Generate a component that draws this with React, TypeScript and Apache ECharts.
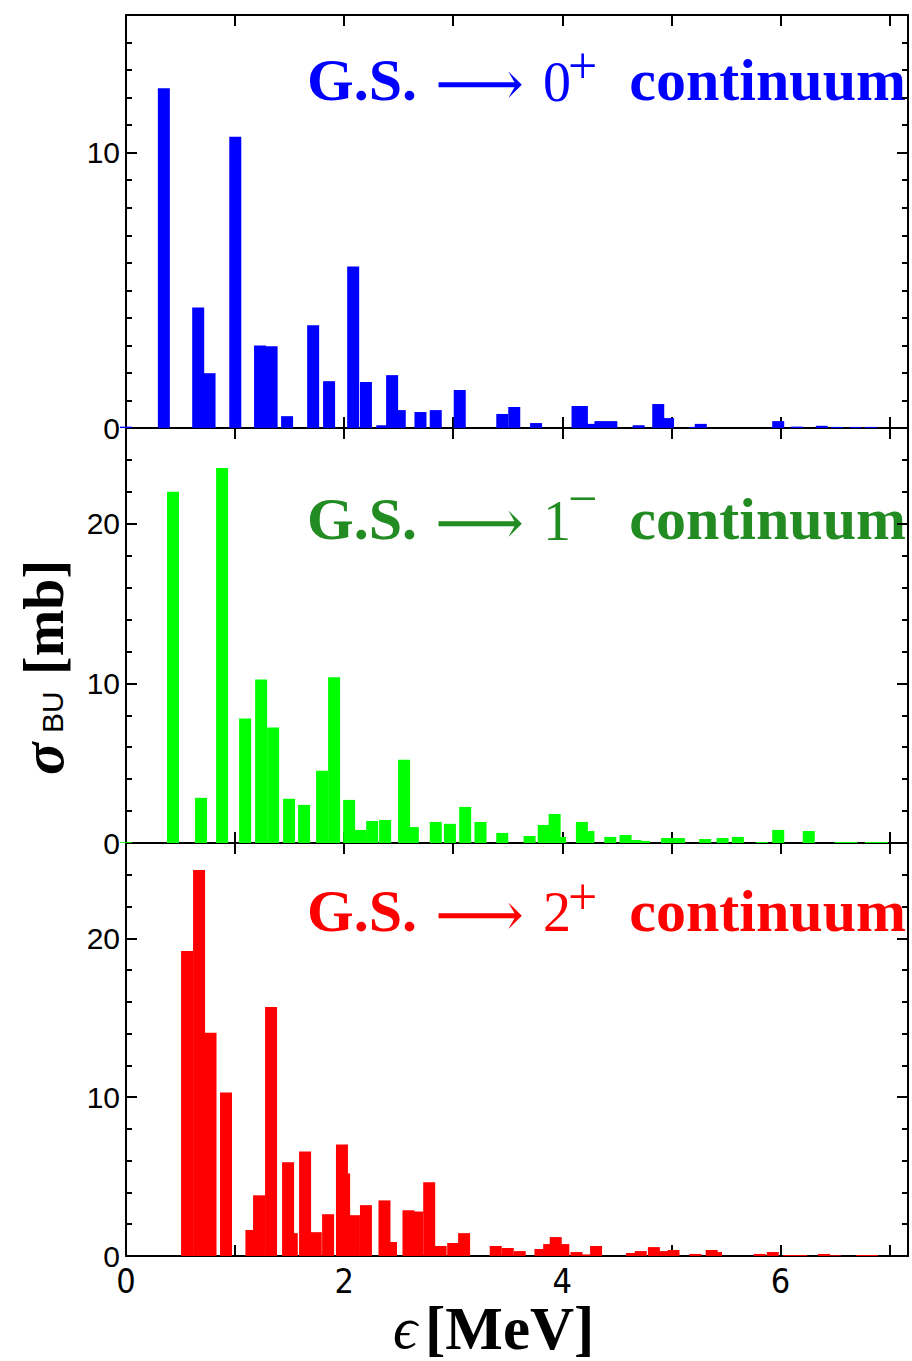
import React, { useEffect, useRef } from 'react';
import * as echarts from 'echarts';

// x-axis tick labels (MeV) and y-axis tick labels (mb)
const xTickLabels = [0, 2, 4, 6];
const yTickLabels = [0, 10, 20];
const panelMax = [15, 26, 26];

// G.S. -> 0+ continuum  [energy (MeV), sigma (mb)]
const bu0plus: number[][] = [
  [0.0, 0.05], [0.347, 12.34], [0.662, 4.38], [0.766, 1.99], [1.002, 10.58],
  [1.229, 3.0], [1.335, 2.97], [1.477, 0.43], [1.716, 3.73], [1.862, 1.7],
  [2.083, 5.87], [2.2, 1.67], [2.35, 0.1], [2.44, 1.92], [2.51, 0.65],
  [2.7, 0.58], [2.84, 0.65], [3.06, 1.38], [3.45, 0.51], [3.56, 0.76],
  [3.76, 0.18], [4.14, 0.8], [4.18, 0.8], [4.28, 0.15], [4.35, 0.25],
  [4.45, 0.25], [4.7, 0.1], [4.88, 0.87], [4.97, 0.36], [5.22, 0.04],
  [5.27, 0.15], [5.98, 0.25], [6.15, 0.05], [6.38, 0.08], [6.52, 0.04],
  [6.69, 0.04], [6.83, 0.04],
];

// G.S. -> 1- continuum
const bu1minus: number[][] = [
  [0.0, 0.05], [0.431, 22.0], [0.688, 2.83], [0.881, 23.5], [1.092, 7.8],
  [1.239, 10.25], [1.349, 7.23], [1.495, 2.77], [1.633, 2.39], [1.798, 4.53],
  [1.908, 10.38], [2.046, 2.7], [2.151, 0.82], [2.257, 1.38], [2.376, 1.44],
  [2.55, 5.22], [2.63, 1.0], [2.84, 1.32], [2.97, 1.2], [3.11, 2.26],
  [3.25, 1.32], [3.45, 0.63], [3.7, 0.44], [3.83, 1.13], [3.93, 1.82],
  [3.98, 0.38], [4.18, 1.32], [4.24, 0.75], [4.44, 0.38], [4.58, 0.5],
  [4.67, 0.19], [4.75, 0.13], [4.96, 0.31], [5.07, 0.31], [5.31, 0.25],
  [5.47, 0.31], [5.61, 0.38], [5.83, 0.06], [5.98, 0.82], [6.26, 0.75],
  [6.55, 0.06], [6.65, 0.06], [6.83, 0.06], [6.93, 0.06],
];

// G.S. -> 2+ continuum
const bu2plus: number[][] = [
  [0.56, 19.2], [0.67, 24.3], [0.775, 14.05], [0.917, 10.3], [1.15, 1.63],
  [1.22, 3.82], [1.33, 15.67], [1.486, 5.9], [1.52, 1.44], [1.642, 6.58],
  [1.74, 1.5], [1.853, 2.63], [1.98, 7.02], [2.0, 5.2], [2.09, 2.57],
  [2.2, 3.2], [2.37, 3.5], [2.43, 0.88], [2.59, 2.88], [2.67, 2.8],
  [2.78, 4.64], [2.885, 0.63], [3.0, 0.82], [3.1, 1.44], [3.39, 0.63],
  [3.5, 0.5], [3.61, 0.31], [3.8, 0.44], [3.88, 0.75], [3.94, 1.19],
  [4.01, 0.75], [4.13, 0.25], [4.2, 0.1], [4.31, 0.63], [4.64, 0.19],
  [4.72, 0.31], [4.84, 0.56], [4.93, 0.31], [5.02, 0.38], [5.22, 0.13],
  [5.37, 0.38], [5.41, 0.25], [5.81, 0.13], [5.93, 0.25], [6.08, 0.06],
  [6.19, 0.06], [6.4, 0.13], [6.5, 0.05], [6.75, 0.06], [6.84, 0.06],
];

const panelData = [bu0plus, bu1minus, bu2plus];
const barColors = ['#0000ff', '#00ff00', '#ff0000'];
const labelColors = ['#0000ff', '#228b22', '#ff0000'];
const labelDigits = ['0', '1', '2'];
const labelSups = ['+', '\u2212', '+'];

const GRIDS = [
  { top: 15, height: 413 },
  { top: 428, height: 415 },
  { top: 843, height: 413 },
];
const LEFT = 126;
const WIDTH = 782;
const XMAX = 7.17;
const SERIF = '"Liberation Serif", "Times New Roman", serif';
const SANS = '"Liberation Sans", Arial, sans-serif';
const BLACK = '#000';

export default function App() {
  const ref = useRef<HTMLDivElement>(null);

  useEffect(() => {
    document.body.style.margin = '0';
    const chart = echarts.init(ref.current as HTMLDivElement, null, { renderer: 'svg' });

    const grid = GRIDS.map((g) => ({ left: LEFT, width: WIDTH, top: g.top, height: g.height }));
    const xAxis: any[] = [];
    const yAxis: any[] = [];
    GRIDS.forEach((_, i) => {
      ['bottom', 'top'].forEach((pos) => {
        const showLab = pos === 'bottom' && i === 2;
        xAxis.push({
          type: 'value',
          gridIndex: i,
          position: pos,
          min: 0,
          max: XMAX,
          interval: 1,
          axisLine: { show: true, onZero: false, lineStyle: { color: BLACK, width: 2 } },
          axisTick: { show: true, inside: true, length: 11, lineStyle: { color: BLACK, width: 2 } },
          splitLine: { show: false },
          axisLabel: {
            show: showLab,
            margin: 10,
            fontFamily: '"Liberation Sans Narrow", "DejaVu Sans Condensed", ' + SANS,
            fontSize: 34,
            lineHeight: 30,
            color: BLACK,
            formatter: (v: number) => (xTickLabels.includes(v) ? String(v) : ''),
          },
        });
      });
      ['left', 'right'].forEach((pos) => {
        yAxis.push({
          type: 'value',
          gridIndex: i,
          position: pos,
          min: 0,
          max: panelMax[i],
          interval: 10,
          axisLine: { show: true, onZero: false, lineStyle: { color: BLACK, width: 2 } },
          axisTick: { show: true, inside: true, length: 11, lineStyle: { color: BLACK, width: 2 } },
          minorTick: {
            show: true,
            splitNumber: i === 0 ? 10 : 5,
            length: 6,
            lineStyle: { color: BLACK, width: 2 },
          },
          splitLine: { show: false },
          minorSplitLine: { show: false },
          axisLabel: {
            show: pos === 'left',
            margin: 6,
            fontFamily: SANS,
            fontSize: 30,
            color: BLACK,
            formatter: (v: number) => (yTickLabels.includes(v) ? String(v) : ''),
          },
        });
      });
    });

    const series = panelData.map((d, i) => ({
      type: 'bar',
      xAxisIndex: 2 * i,
      yAxisIndex: 2 * i,
      data: d,
      barWidth: 12,
      clip: false,
      itemStyle: { color: barColors[i] },
      silent: true,
    }));

    const baselines = [100.7, 539.5, 931];
    const graphics: any[] = [];
    baselines.forEach((b, i) => {
      const c = labelColors[i];
      const mid = (fs: number) => b - 0.3375 * fs;
      graphics.push(
        {
          type: 'text', x: 307, y: mid(60),
          style: { text: 'G.S.', fontFamily: SERIF, fontWeight: 'bold', fontSize: 60, fill: c, align: 'left', verticalAlign: 'middle' },
        },
        {
          type: 'text', x: 435, y: b - 17,
          style: { text: '\u27f6', fontFamily: '"DejaVu Serif", "DejaVu Sans", serif', fontSize: 62, fill: c, align: 'left', verticalAlign: 'middle' },
        },
        {
          type: 'text', x: 543, y: mid(56),
          style: { text: labelDigits[i], fontFamily: SERIF, fontSize: 56, fill: c, align: 'left', verticalAlign: 'middle' },
        },
        {
          type: 'text', x: 568, y: i === 1 ? b - 41 : b - 35,
          style: { text: labelSups[i], fontFamily: SERIF, fontSize: 52, lineHeight: 40, fill: c, align: 'left', verticalAlign: 'middle' },
        },
        {
          type: 'text', x: 906, y: mid(60),
          style: { text: 'continuum', fontFamily: SERIF, fontWeight: 'bold', fontSize: 60, fill: c, align: 'right', verticalAlign: 'middle' },
        },
      );
    });

    // x-axis title
    graphics.push(
      {
        type: 'text', x: 393, y: 1348 - 0.3375 * 60,
        style: { text: '\u03f5', fontFamily: SERIF, fontStyle: 'italic', fontSize: 60, lineHeight: 46, fill: BLACK, align: 'left', verticalAlign: 'middle' },
      },
      {
        type: 'text', x: 425, y: 1349 - 0.3375 * 61,
        style: { text: '[MeV]', fontFamily: SERIF, fontWeight: 'bold', fontSize: 61, lineHeight: 46, fill: BLACK, align: 'left', verticalAlign: 'middle' },
      },
    );

    // y-axis title (rotated)
    graphics.push({
      type: 'group',
      x: 63,
      y: 775,
      rotation: Math.PI / 2,
      children: [
        {
          type: 'text', x: 0, y: -0.3375 * 60,
          style: { text: '\u03c3', fontFamily: SERIF, fontWeight: 'bold', fontStyle: 'italic', fontSize: 60, fill: BLACK, align: 'left', verticalAlign: 'middle' },
        },
        {
          type: 'text', x: 42, y: -0.3465 * 30,
          style: { text: 'BU', fontFamily: SANS, fontSize: 30, fill: BLACK, align: 'left', verticalAlign: 'middle' },
        },
        {
          type: 'text', x: 100, y: -0.3375 * 56,
          style: { text: '[mb]', fontFamily: SERIF, fontWeight: 'bold', fontSize: 56, fill: BLACK, align: 'left', verticalAlign: 'middle' },
        },
      ],
    });

    chart.setOption({
      animation: false,
      backgroundColor: '#fff',
      grid,
      xAxis,
      yAxis,
      series,
      graphic: graphics,
    });

    return () => chart.dispose();
  }, []);

  return <div ref={ref} style={{ width: 912, height: 1361, background: '#fff' }} />;
}
